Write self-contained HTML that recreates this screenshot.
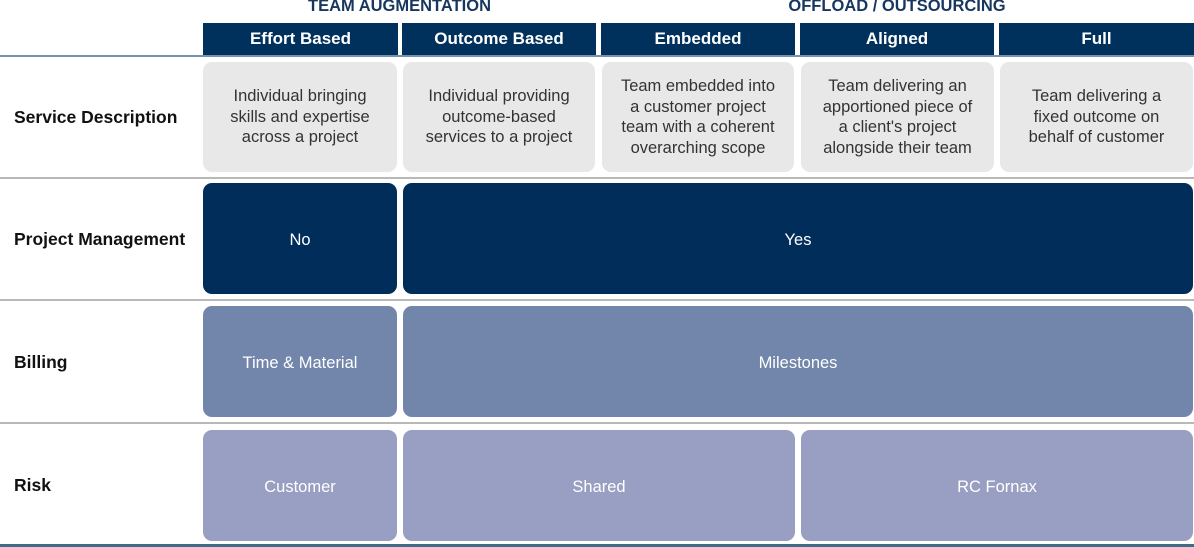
<!DOCTYPE html>
<html><head><style>
body{margin:0;width:1194px;height:547px;background:#fff;position:relative;overflow:hidden;font-family:"Liberation Sans",sans-serif}
.a{position:absolute}
.t{position:absolute;font-weight:bold;font-size:16.5px;color:#17375e;top:-3px;text-align:center}
.h{position:absolute;top:23px;height:32px;background:#00305c;color:#fff;font-weight:bold;font-size:17px;display:flex;align-items:center;justify-content:center}
.b{position:absolute;border-radius:9px;display:flex;align-items:center;justify-content:center;text-align:center;font-size:16.5px;line-height:20.5px}
.g{background:#e8e8e8;color:#333}
.n{background:#002d59;color:#fff}
.m{background:#7285ab;color:#fff}
.r{background:#999fc2;color:#fff}
.l{position:absolute;left:14px;font-weight:bold;font-size:17.5px;color:#111}
.ln{position:absolute;left:0;width:1194px;height:2px;background:#b8b8b8}
</style></head><body>
<div class="t" style="left:203px;width:393px">TEAM AUGMENTATION</div>
<div class="t" style="left:601px;width:592px">OFFLOAD / OUTSOURCING</div>
<div class="h" style="left:203px;width:195px">Effort Based</div>
<div class="h" style="left:402px;width:194px">Outcome Based</div>
<div class="h" style="left:601px;width:194px">Embedded</div>
<div class="h" style="left:800px;width:194px">Aligned</div>
<div class="h" style="left:999px;width:195px">Full</div>
<div class="a" style="left:0;top:55px;width:1194px;height:2px;background:#7393b0"></div>

<div class="l" style="top:107px">Service Description</div>
<div class="b g" style="left:203px;top:62px;width:194px;height:110px">Individual bringing<br>skills and expertise<br>across a project</div>
<div class="b g" style="left:403px;top:62px;width:192px;height:110px">Individual providing<br>outcome-based<br>services to a project</div>
<div class="b g" style="left:602px;top:62px;width:192px;height:110px">Team embedded into<br>a customer project<br>team with a coherent<br>overarching scope</div>
<div class="b g" style="left:801px;top:62px;width:193px;height:110px">Team delivering an<br>apportioned piece of<br>a client's project<br>alongside their team</div>
<div class="b g" style="left:1000px;top:62px;width:193px;height:110px">Team delivering a<br>fixed outcome on<br>behalf of customer</div>
<div class="ln" style="top:177px"></div>

<div class="l" style="top:229px">Project Management</div>
<div class="b n" style="left:203px;top:183px;width:194px;height:111px;padding-top:3px;box-sizing:border-box">No</div>
<div class="b n" style="left:403px;top:183px;width:790px;height:111px;padding-top:3px;box-sizing:border-box">Yes</div>
<div class="ln" style="top:299px"></div>

<div class="l" style="top:352px">Billing</div>
<div class="b m" style="left:203px;top:306px;width:194px;height:111px;padding-top:3px;box-sizing:border-box">Time &amp; Material</div>
<div class="b m" style="left:403px;top:306px;width:790px;height:111px;padding-top:3px;box-sizing:border-box">Milestones</div>
<div class="ln" style="top:422px"></div>

<div class="l" style="top:475px">Risk</div>
<div class="b r" style="left:203px;top:430px;width:194px;height:111px;padding-top:3px;box-sizing:border-box">Customer</div>
<div class="b r" style="left:403px;top:430px;width:392px;height:111px;padding-top:3px;box-sizing:border-box">Shared</div>
<div class="b r" style="left:801px;top:430px;width:392px;height:111px;padding-top:3px;box-sizing:border-box">RC Fornax</div>
<div class="a" style="left:0;top:544px;width:1194px;height:3px;background:#3f6a88"></div>
</body></html>
